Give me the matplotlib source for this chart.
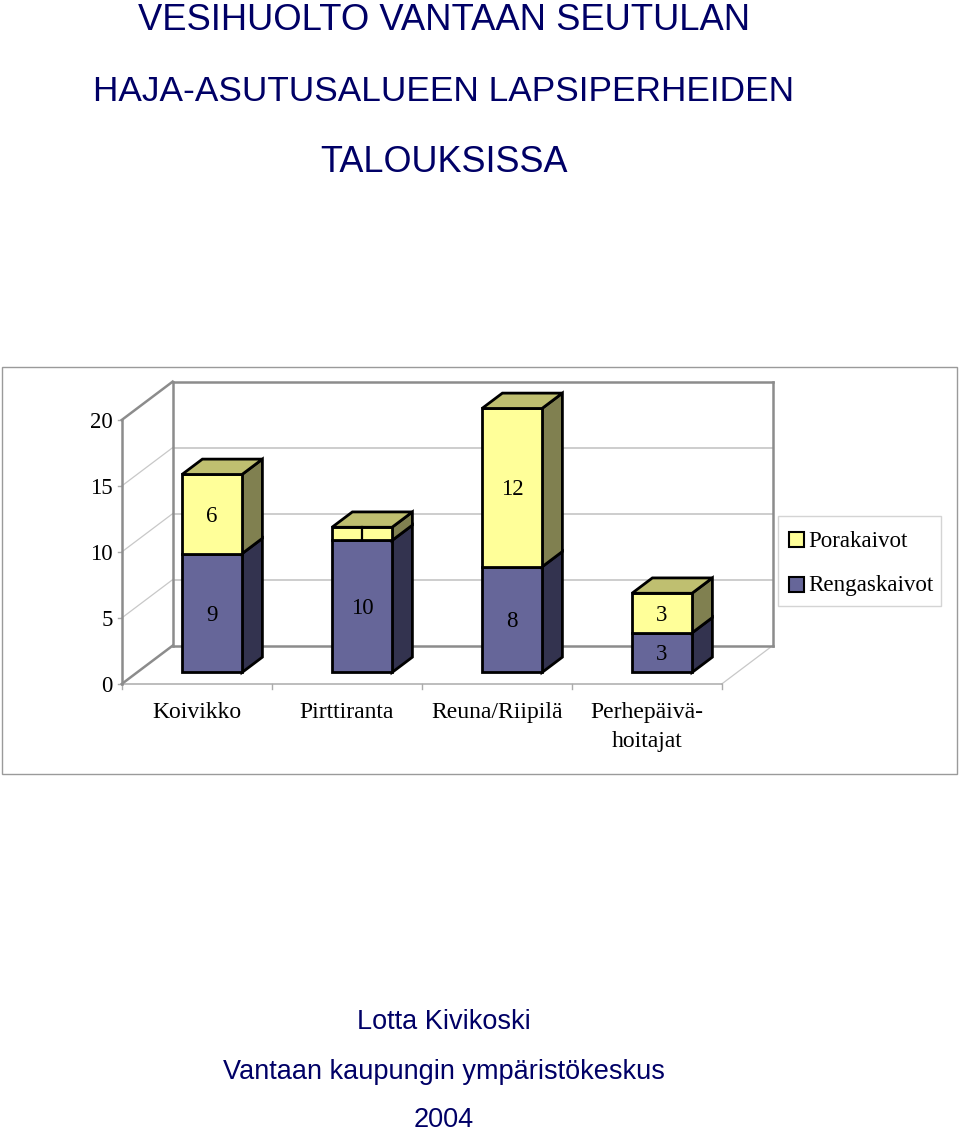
"""
Kaivotyypit lapsiperheiden talouksissa, pseudo-3D pinottu pylväskaavio
"""

import matplotlib
matplotlib.use('Agg')
import matplotlib.pyplot as plt
from matplotlib.patches import Polygon, Rectangle

categories = ['Koivikko', 'Pirttiranta', 'Reuna/Riipilä', 'Perhepäivä-\nhoitajat']
rengaskaivot = [9, 10, 8, 3]
porakaivot = [6, 1, 12, 3]
y_ticks = [0, 5, 10, 15, 20]
series_names = ['Porakaivot', 'Rengaskaivot']

title_lines = ['VESIHUOLTO VANTAAN SEUTULAN', 'HAJA-ASUTUSALUEEN LAPSIPERHEIDEN', 'TALOUKSISSA']
footer_lines = ['Lotta Kivikoski', 'Vantaan kaupungin ympäristökeskus', '2004']

W, H = 960, 1130
NAVY = '#000066'
X0, Y0 = 121.7, 684.0       # lattian etukulma pikseleinä
CAT_W = 150.0
UNIT_H = 13.2
DX, DY = 51.0, 38.4         # syvyys pikseleinä

BLUE = ('#666699', '#33334F')
YELLOW = ('#FFFF99', '#808050')
TOP = '#BFBF70'
SERIF = 'Liberation Serif'

fig = plt.figure(figsize=(W / 100, H / 100), dpi=100, facecolor='white')
ax = fig.add_axes([0, 0, 1, 1])
ax.set_xlim(-X0 / CAT_W, (W - X0) / CAT_W)
ax.set_ylim((Y0 - H) / UNIT_H, Y0 / UNIT_H)
ax.axis('off')


def proj(x, v, d=0.0):
    # kategoria, arvo, syvyys (0-1) -> datakoordinaatit
    return x + d * DX / CAT_W, v + d * DY / UNIT_H


def line3d(p, q, color, lw, zorder=1):
    a, b = proj(*p), proj(*q)
    ax.plot([a[0], b[0]], [a[1], b[1]], color=color, lw=lw, zorder=zorder,
            solid_capstyle='projecting')


def fig_text(x, y, s, **kw):
    fig.text(x / W, 1 - y / H, s, **kw)


n = len(categories)
top = y_ticks[-1]

# kehys
fig.add_artist(Rectangle((1.5 / W, 1 - 774 / H), 955.5 / W, 407 / H, transform=fig.transFigure,
                         fill=False, edgecolor='#9A9A9A', lw=1))

# seinät ja ruudukko
for t in y_ticks[1:-1]:
    line3d((0, t, 0), (0, t, 1), '#C8C8C8', 0.9)
    line3d((0, t, 1), (n, t, 1), '#C0C0C0', 1.1)
line3d((n, 0, 0), (n, 0, 1), '#C8C8C8', 0.9)
line3d((0, 0, 0), (n, 0, 0), '#ABABAB', 1.1)
for p, q in [((0, 0, 0), (0, top, 0)), ((0, top, 0), (0, top, 1)), ((0, 0, 0), (0, 0, 1)),
             ((0, 0, 1), (0, top, 1)), ((0, top, 1), (n, top, 1)), ((n, top, 1), (n, 0, 1)),
             ((0, 0, 1), (n, 0, 1))]:
    line3d(p, q, '#8C8C8C', 1.8, zorder=1.5)

# akselimerkit
for t in y_ticks:
    xp, yp = proj(0, t)
    ax.plot([xp - 4 / CAT_W, xp], [yp, yp], color='#ABABAB', lw=1, zorder=1)
    ax.text(xp - 9 / CAT_W, yp - 2.5 / UNIT_H, str(t), ha='right', va='center', fontsize=16.5,
            family=SERIF, color='black')
for i in range(n + 1):
    ax.plot([i, i], [0, -5 / UNIT_H], color='#ABABAB', lw=1, zorder=1)
for i, c in enumerate(categories):
    for k, part in enumerate(c.split('\n')):
        ax.text(i + 0.5, -(34 + 28.7 * k) / UNIT_H, part, ha='center', va='baseline', fontsize=17,
                family=SERIF, color='black')


def box(i, v0, v1, colors, draw_top, zorder):
    x0, x1 = i + 0.3, i + 0.7
    d0, d1 = 0.3, 0.7
    edge = dict(edgecolor='black', lw=2, joinstyle='miter', zorder=zorder)
    ax.add_patch(Polygon([proj(x1, v0, d0), proj(x1, v0, d1), proj(x1, v1, d1), proj(x1, v1, d0)],
                         facecolor=colors[1], **edge))
    ax.add_patch(Polygon([proj(x0, v0, d0), proj(x1, v0, d0), proj(x1, v1, d0), proj(x0, v1, d0)],
                         facecolor=colors[0], **edge))
    if draw_top:
        ax.add_patch(Polygon([proj(x0, v1, d0), proj(x1, v1, d0), proj(x1, v1, d1), proj(x0, v1, d1)],
                             facecolor=TOP, **edge))


for i in range(n):
    r, p = rengaskaivot[i], porakaivot[i]
    box(i, 0, r, BLUE, False, 3 + i)
    box(i, r, r + p, YELLOW, True, 3 + i)
    cx, cy = proj(i + 0.5, r / 2, 0.3)
    ax.text(cx, cy - 2 / UNIT_H, str(r), ha='center', va='center', fontsize=16.5,
            family=SERIF, color='black', zorder=10)
    cx, cy = proj(i + 0.5, r + p / 2, 0.3)
    if p > 1:
        ax.text(cx, cy - 2 / UNIT_H, str(p), ha='center', va='center', fontsize=16.5,
                family=SERIF, color='black', zorder=10)
    else:
        # pieni arvo: alkuperäisessä vain pystyviiva
        y0 = proj(i, r, 0.3)[1]
        y1 = proj(i, r + p, 0.3)[1]
        ax.plot([cx, cx], [y0, y1], color='black', lw=1.6, zorder=10)

# selite
fig.add_artist(Rectangle((778 / W, 1 - 606 / H), 163 / W, 90 / H, transform=fig.transFigure,
                         facecolor='white', edgecolor='#D4D4D4', lw=1))
for name, c, yc in zip(series_names, [YELLOW[0], BLUE[0]], [539, 584]):
    fig.add_artist(Rectangle((789 / W, 1 - (yc + 7.5) / H), 15 / W, 15 / H, transform=fig.transFigure,
                             facecolor=c, edgecolor='black', lw=1.5))
    fig_text(808, yc + 2, name, ha='left', va='center', fontsize=16.6, family=SERIF)

# otsikko ja alateksti
for s, yb, fs in zip(title_lines, [30, 101, 172], [26.2, 25.4, 25.9]):
    fig_text(444, yb, s, ha='center', va='baseline', fontsize=fs, family='Liberation Sans',
             color=NAVY)
for s, yb in zip(footer_lines, [1029, 1079, 1127]):
    fig_text(444, yb, s, ha='center', va='baseline', fontsize=19.5, family='Liberation Sans',
             color=NAVY)

fig.savefig('out.png', dpi=100, facecolor='white')
